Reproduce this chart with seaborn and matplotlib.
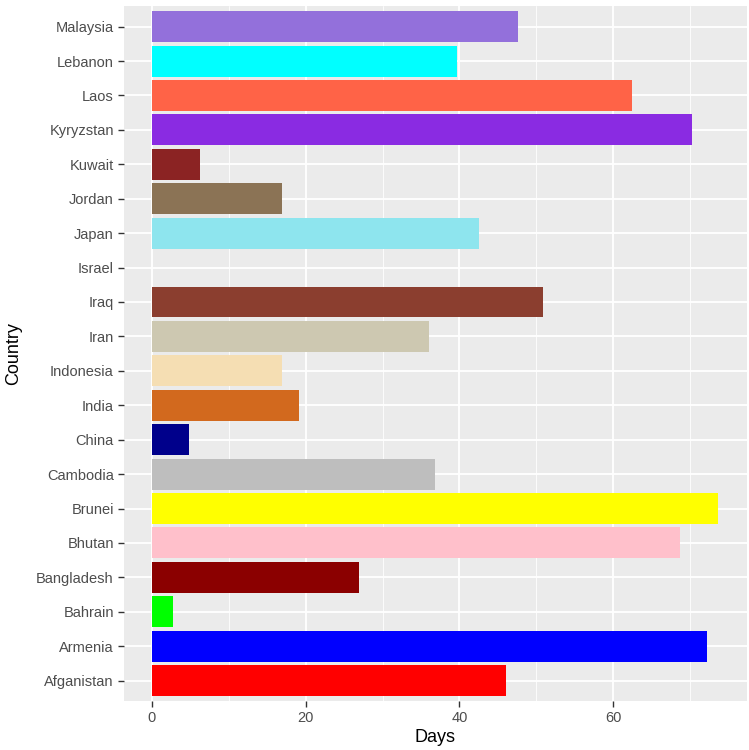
import pandas as pd
import numpy as np
import matplotlib
matplotlib.use("Agg")
import matplotlib.pyplot as plt
import seaborn as sns
from matplotlib.ticker import MultipleLocator

# Data
countries = ['Afganistan', 'Armenia', 'Bahrain', 'Bangladesh', 'Bhutan', 'Brunei',
             'Cambodia', 'China', 'India', 'Indonesia', 'Iran', 'Iraq', 'Israel',
             'Japan', 'Jordan', 'Kuwait', 'Kyryzstan', 'Laos', 'Lebanon', 'Malaysia']
days = [46.0, 72.2, 2.7, 26.9, 68.7, 73.7,
        36.8, 4.8, 19.1, 16.9, 36.0, 50.9, 0.0,
        42.5, 16.9, 6.3, 70.2, 62.5, 39.7, 47.6]
bar_colors = ['#FF0000', '#0000FF', '#00FF00', '#8B0000', '#FFC0CB', '#FFFF00',
              '#BEBEBE', '#00008B', '#D2691E', '#F5DEB3', '#CDC8B1', '#8B3E2F', '#7F7F7F',
              '#8EE5EE', '#8B7355', '#8B2323', '#8A2BE2', '#FF6347', '#00FFFF', '#9370DB']

df = pd.DataFrame({'Country': countries, 'Days': days})
palette = dict(zip(countries, bar_colors))

sns.set_theme(style="darkgrid")
plt.rcParams['font.family'] = ['Liberation Sans', 'DejaVu Sans']

fig = plt.figure(figsize=(7.49, 7.5), dpi=100)
ax = fig.add_axes([0.165, 0.065, 0.832, 0.927])
ax.set_facecolor('#EBEBEB')

sns.barplot(data=df, x='Days', y='Country', hue='Country', order=countries[::-1],
            palette=palette, saturation=1, width=0.9, linewidth=0,
            legend=False, ax=ax)

# ggplot-like expansion
xmax = max(days)
ax.set_xlim(-0.05 * xmax, xmax * 1.05)
ax.set_ylim(len(countries) - 1 + 0.6, -0.6)

ax.xaxis.set_major_locator(MultipleLocator(20))
ax.xaxis.set_minor_locator(MultipleLocator(10))
ax.grid(which='major', color='white', linewidth=1.3)
ax.grid(which='minor', axis='x', color='white', linewidth=0.6)
ax.set_axisbelow(True)
for s in ax.spines.values():
    s.set_visible(False)

ax.tick_params(axis='both', which='major', length=4, width=1, color='#333333',
               labelsize=10.5, labelcolor='#4D4D4D', pad=3, bottom=True, left=True)
ax.tick_params(axis='x', which='minor', length=0)

ax.set_xlabel('Days', fontsize=13, color='black', labelpad=3)
ax.set_ylabel('Country', fontsize=13, color='black', labelpad=10)

fig.savefig('out.png', dpi=100, facecolor='white')
